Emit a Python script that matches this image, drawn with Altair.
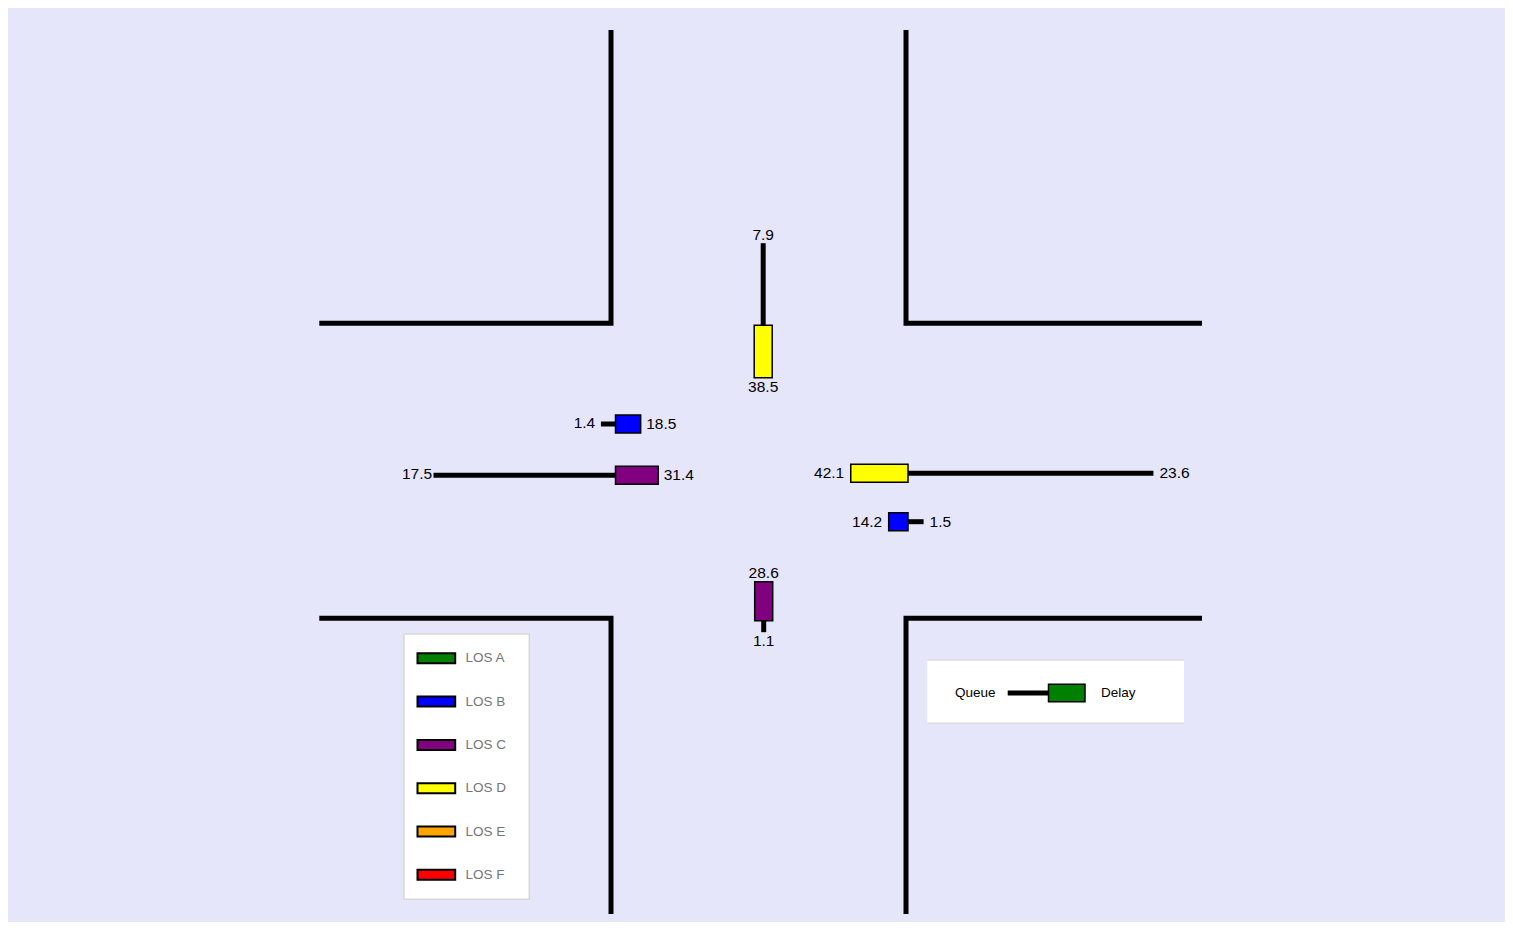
import altair as alt
import pandas as pd

# ---------------- data ----------------
lanes    = ["SB", "EB-L", "EB-T", "WB-T", "WB-L", "NB"]
approach = ["SB", "EB", "EB", "WB", "WB", "NB"]
delay    = [38.5, 18.5, 31.4, 42.1, 14.2, 28.6]
queue    = [7.9, 1.4, 17.5, 23.6, 1.5, 1.1]
los      = ["LOS D", "LOS B", "LOS C", "LOS D", "LOS B", "LOS C"]

los_levels = ["LOS A", "LOS B", "LOS C", "LOS D", "LOS E", "LOS F"]
los_colors = ["#008000", "#0000ff", "#800080", "#ffff00", "#ffa500", "#ff0000"]

# ---------------- layout (page pixels) ----------------
W, H = 1497, 914
OFF = 8
CX, CY = 758.5, 470.75          # intersection centre
HALF = 147.5                    # road half width
ARM_N, ARM_S, ARM_W, ARM_E = 440.75, 443.25, 439.2, 443.5
DELAY_PX = 1.36                 # px per second of delay
QUEUE_PX = 10.4                 # px per queue unit
BAR_W = 18.0

# stop-point offsets from centre for each lane and queue direction
lane_offset = {"SB": (4.7, -145.4), "EB-L": (-143.0, -46.75), "EB-T": (-143.0, 4.45),
               "WB-T": (149.5, 2.45), "WB-L": (149.5, 50.95), "NB": (5.2, 150.0)}
qdir = {"SB": (0, -1), "NB": (0, 1), "EB": (-1, 0), "WB": (1, 0)}

xs = alt.Scale(domain=[OFF, OFF + W], range=[0, W], nice=False, zero=False)
ys = alt.Scale(domain=[OFF, OFF + H], range=[0, H], nice=False, zero=False)
FONT = "Liberation Sans"


def X(f):
    return alt.X(f, type="quantitative", scale=xs, axis=None)


def Y(f):
    return alt.Y(f, type="quantitative", scale=ys, axis=None)


# ---------------- roads ----------------
road_rows = []
for sx, arm_x in ((-1, ARM_W), (1, ARM_E)):
    for sy, arm_y in ((-1, ARM_N), (1, ARM_S)):
        cid = f"{sx}{sy}"
        pts = [(CX + sx * HALF, CY + sy * arm_y),
               (CX + sx * HALF, CY + sy * HALF),
               (CX + sx * arm_x, CY + sy * HALF)]
        for k, (px, py) in enumerate(pts):
            road_rows.append({"corner": cid, "i": k, "x": px, "y": py})
roads = alt.Chart(pd.DataFrame(road_rows)).mark_line(
    color="black", strokeWidth=5, strokeJoin="miter", strokeCap="butt"
).encode(x=X("x"), y=Y("y"), detail="corner:N", order=alt.Order("i:Q"))

# ---------------- approach geometry ----------------
q_rows, b_rows, t_rows = [], [], []
for ln, ap, d, q, l in zip(lanes, approach, delay, queue, los):
    ox, oy = lane_offset[ln]
    ax, ay = CX + ox, CY + oy
    dx, dy = qdir[ap]
    qlen, dlen = q * QUEUE_PX, d * DELAY_PX
    qex, qey = ax + dx * qlen, ay + dy * qlen
    bex, bey = ax - dx * dlen, ay - dy * dlen
    q_rows.append({"x": ax, "y": ay, "x2": qex, "y2": qey})
    if dx == 0:
        b_rows.append({"x": ax - BAR_W / 2, "x2": ax + BAR_W / 2, "y": ay, "y2": bey, "los": l})
    else:
        b_rows.append({"x": ax, "x2": bex, "y": ay - BAR_W / 2, "y2": ay + BAR_W / 2, "los": l})
    if ap in ("SB", "NB"):
        t_rows.append({"x": qex, "y": qey + dy * 8.5, "t": f"{q}", "a": "center"})
        t_rows.append({"x": bex, "y": bey - dy * 9.0, "t": f"{d}", "a": "center"})
    elif ap == "EB":
        t_rows.append({"x": qex - 16.5, "y": qey - 1.5, "t": f"{q}", "a": "center"})
        t_rows.append({"x": bex + 5.5, "y": bey, "t": f"{d}", "a": "left"})
    else:
        t_rows.append({"x": qex + 6.0, "y": qey, "t": f"{q}", "a": "left"})
        t_rows.append({"x": bex - 6.5, "y": bey, "t": f"{d}", "a": "right"})

color_enc = alt.Color("los:N", scale=alt.Scale(domain=los_levels, range=los_colors), legend=None)

queues = alt.Chart(pd.DataFrame(q_rows)).mark_rule(
    color="black", strokeWidth=5, strokeCap="butt"
).encode(x=X("x"), y=Y("y"), x2="x2", y2="y2")

bars = alt.Chart(pd.DataFrame(b_rows)).mark_rect(
    stroke="black", strokeWidth=1.5
).encode(x=X("x"), x2="x2", y=Y("y"), y2="y2", color=color_enc)

tdf = pd.DataFrame(t_rows)
labels = [
    alt.Chart(tdf).transform_filter(alt.datum.a == a).mark_text(
        align=a, baseline="middle", fontSize=15.5, font=FONT, color="black"
    ).encode(x=X("x"), y=Y("y"), text="t:N")
    for a in ("left", "center", "right")
]

# ---------------- LOS legend (bottom-left) ----------------
LX0, LY0, LX1, LY1 = 404.0, 634.0, 529.3, 899.3
leg_box = alt.Chart(pd.DataFrame([{"x": LX0, "x2": LX1, "y": LY0, "y2": LY1}])).mark_rect(
    fill="white", stroke="#d8d8d8", strokeWidth=1.5
).encode(x=X("x"), x2="x2", y=Y("y"), y2="y2")

sw_rows = []
for k, lv in enumerate(los_levels):
    cy = 658.3 + 43.3 * k
    sw_rows.append({"x": 417.5, "x2": 455.2, "y": cy - 5.0, "y2": cy + 5.0, "los": lv,
                    "tx": 465.5, "ty": cy})
swdf = pd.DataFrame(sw_rows)
leg_sw = alt.Chart(swdf).mark_rect(stroke="black", strokeWidth=2).encode(
    x=X("x"), x2="x2", y=Y("y"), y2="y2", color=color_enc)
leg_txt = alt.Chart(swdf).mark_text(
    align="left", baseline="middle", fontSize=13.5, font=FONT, color="#757575"
).encode(x=X("tx"), y=Y("ty"), text="los:N")

# ---------------- Queue / Delay key (bottom-right) ----------------
KX0, KY0, KX1, KY1 = 927.3, 660.0, 1184.0, 723.3
KY = 693.0
key_box = alt.Chart(pd.DataFrame([{"x": KX0, "x2": KX1, "y": KY0, "y2": KY1}])).mark_rect(
    fill="white").encode(x=X("x"), x2="x2", y=Y("y"), y2="y2")
key_edges = alt.Chart(pd.DataFrame([{"x": KX0, "x2": KX1, "y": KY0}, {"x": KX0, "x2": KX1, "y": KY1}])).mark_rule(
    color="#dcdcdc", strokeWidth=1.5).encode(x=X("x"), x2="x2", y=Y("y"))
key_line = alt.Chart(pd.DataFrame([{"x": 1007.7, "x2": 1048.5, "y": KY}])).mark_rule(
    color="black", strokeWidth=5, strokeCap="butt").encode(x=X("x"), x2="x2", y=Y("y"))
key_bar = alt.Chart(pd.DataFrame([{"x": 1048.5, "x2": 1085.0, "y": KY - 8.8, "y2": KY + 8.8, "los": "LOS A"}])).mark_rect(
    stroke="black", strokeWidth=1.5).encode(x=X("x"), x2="x2", y=Y("y"), y2="y2", color=color_enc)
key_txt = alt.Chart(pd.DataFrame([{"x": 955.0, "y": KY, "t": "Queue"}, {"x": 1101.0, "y": KY, "t": "Delay"}])).mark_text(
    align="left", baseline="middle", fontSize=13.5, font=FONT, color="black"
).encode(x=X("x"), y=Y("y"), text="t:N")

chart = alt.layer(
    roads, queues, bars, *labels,
    leg_box, leg_sw, leg_txt,
    key_box, key_edges, key_line, key_bar, key_txt,
).properties(
    width=W, height=H, background="#e6e6fa", padding=0,
    autosize=alt.AutoSizeParams(type="none"),
).configure_view(stroke=None)

chart.save("out.html", embed_options={"renderer": "svg", "actions": False})
